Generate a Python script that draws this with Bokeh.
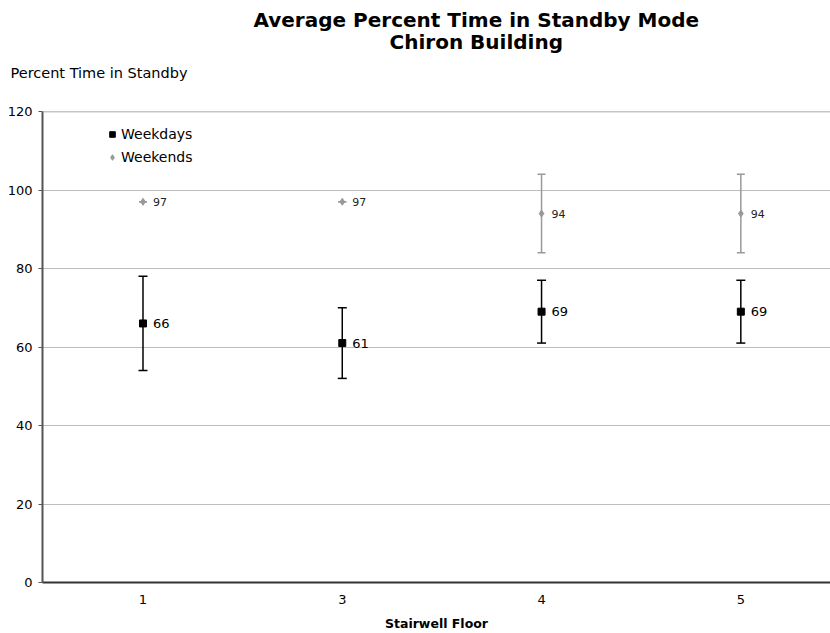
from bokeh.plotting import figure
from bokeh.models import (ColumnDataSource, Whisker, TeeHead, Legend, Title, Span,
                          LegendItem, FixedTicker, Range1d)
from bokeh.core.properties import value
from bokeh.embed import file_html
from bokeh.resources import INLINE

# Stairwell floors and standby statistics
floors = ["1", "3", "4", "5"]
weekday_mean = [66, 61, 69, 69]
weekday_low = [54, 52, 61, 61]
weekday_high = [78, 70, 77, 77]
weekend_mean = [97, 97, 94, 94]
weekend_low = [97, 97, 84, 84]
weekend_high = [97, 97, 104, 104]
y_ticks = [0, 20, 40, 60, 80, 100, 120]

FONT = "DejaVu Sans"
pos = list(range(1, len(floors) + 1))

wd = ColumnDataSource(dict(x=pos, y=weekday_mean, lo=weekday_low, hi=weekday_high,
                           lab=[str(v) for v in weekday_mean]))
we = ColumnDataSource(dict(x=pos, y=weekend_mean, lo=weekend_low, hi=weekend_high,
                           lab=[str(v) for v in weekend_mean]))

p = figure(width=830, height=633, output_backend="svg", toolbar_location=None,
           x_range=Range1d(0.4957, 4.450), y_range=Range1d(0, 120),
           min_border_left=42, min_border_right=0, min_border_top=0,
           min_border_bottom=51)
p.outline_line_color = None
p.background_fill_color = "white"
p.border_fill_color = "white"

# headings, stacked outward from the frame
p.title.text = "Average Percent Time in Standby Mode"
p.title.align = "left"
p.title.offset = 211
p.title.standoff = 11
p.title.text_font = FONT
p.title.text_font_size = "20px"
p.title.text_font_style = "bold"
p.title.text_color = "black"
p.add_layout(Title(text="Percent Time in Standby", align="left", offset=-32,
                   standoff=37, padding=dict(left=0, right=0, top=0, bottom=12),
                   text_font=FONT, text_font_size="14.5px",
                   text_font_style="normal", text_color="black"), "above")
p.add_layout(Title(text="Chiron Building", align="left", offset=347,
                   standoff=-19, text_font=FONT, text_font_size="20px",
                   text_font_style="bold", text_color="black"), "above")

# axes
p.xaxis.ticker = FixedTicker(ticks=pos)
p.xaxis.major_label_overrides = {i: f for i, f in zip(pos, floors)}
p.xaxis.major_tick_line_color = None
p.xaxis.minor_tick_line_color = None
p.xaxis.axis_line_color = "#333333"
p.xaxis.axis_line_width = 2
p.xaxis.major_label_text_font = FONT
p.xaxis.major_label_text_font_size = "13px"
p.xaxis.major_label_text_color = "#000000"
p.xaxis.major_label_standoff = 6
p.xaxis.axis_label = "Stairwell Floor"
p.xaxis.axis_label_text_font = FONT
p.xaxis.axis_label_text_font_size = "12.5px"
p.xaxis.axis_label_text_font_style = "bold"
p.xaxis.axis_label_text_color = "#000000"
p.xaxis.axis_label_standoff = 9

p.yaxis.ticker = FixedTicker(ticks=y_ticks)
p.yaxis.major_tick_in = 0
p.yaxis.major_tick_out = 4
p.yaxis.major_tick_line_color = "#555555"
p.yaxis.minor_tick_line_color = None
p.yaxis.axis_line_color = "#555555"
p.yaxis.axis_line_width = 2
p.yaxis.major_label_text_font = FONT
p.yaxis.major_label_text_font_size = "13px"
p.yaxis.major_label_text_color = "#000000"
p.yaxis.major_label_standoff = 6

p.xgrid.grid_line_color = None
p.ygrid.ticker = FixedTicker(ticks=y_ticks[1:-1])
p.ygrid.grid_line_color = "#bdbdbd"
p.ygrid.grid_line_width = 1
p.add_layout(Span(location=y_ticks[-1], dimension="width",
                  line_color="#8c8c8c", line_width=1.5))

# error bars
p.add_layout(Whisker(source=wd, base="x", lower="lo", upper="hi",
                     line_color="black", line_width=1.5,
                     upper_head=TeeHead(size=9, line_color="black", line_width=1.5),
                     lower_head=TeeHead(size=9, line_color="black", line_width=1.5)))
p.add_layout(Whisker(source=we, base="x", lower="lo", upper="hi",
                     line_color="#999999", line_width=1.5,
                     upper_head=TeeHead(size=8, line_color="#999999", line_width=1.5),
                     lower_head=TeeHead(size=8, line_color="#999999", line_width=1.5)))

r_wd = p.scatter("x", "y", source=wd, marker="square", size=7,
                 fill_color="black", line_color="black")
r_we = p.scatter("x", "y", source=we, marker="diamond", size=7,
                 fill_color="#999999", line_color="#999999")

# value labels
p.text("x", "y", text="lab", source=wd, x_offset=10, text_baseline="middle",
       text_font=value(FONT), text_font_size="13px", text_color="black")
p.text("x", "y", text="lab", source=we, x_offset=10, text_baseline="middle",
       text_font=value(FONT), text_font_size="11px", text_color="#222222")

legend = Legend(items=[LegendItem(label="Weekdays", renderers=[r_wd]),
                       LegendItem(label="Weekends", renderers=[r_we])],
                location=(63, 417), orientation="vertical",
                border_line_color=None, background_fill_alpha=0,
                padding=0, margin=0, spacing=7,
                glyph_width=14, glyph_height=16, label_height=16,
                label_standoff=2, label_text_font=FONT,
                label_text_font_size="14px", label_text_color="black")
p.add_layout(legend)

open("out.html", "w").write(file_html(p, INLINE))
